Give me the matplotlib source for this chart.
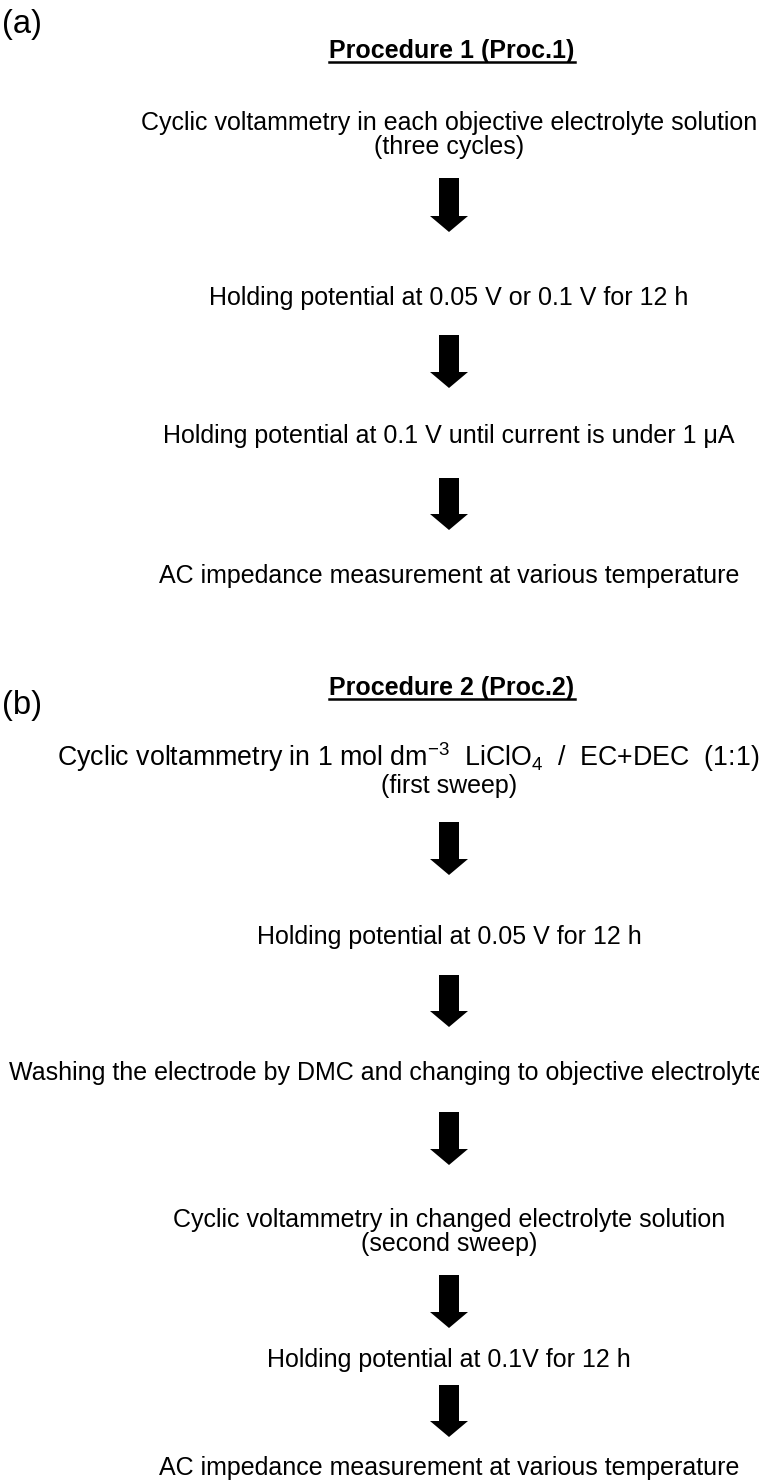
import matplotlib
matplotlib.use('Agg')
import matplotlib.pyplot as plt
from matplotlib.patches import FancyArrow

plt.rcParams['font.family'] = ['Liberation Sans', 'DejaVu Sans']
plt.rcParams['mathtext.fontset'] = 'custom'
plt.rcParams['mathtext.rm'] = 'Liberation Sans'
plt.rcParams['mathtext.it'] = 'Liberation Sans:italic'
plt.rcParams['mathtext.bf'] = 'Liberation Sans:bold'

# panel labels and titles
panel_labels = ['(a)', '(b)']
titles = ['Procedure 1 (Proc.1)', 'Procedure 2 (Proc.2)']

# steps of each procedure (one entry per box, lines joined by \n)
steps_a = [
    'Cyclic voltammetry in each objective electrolyte solution\n(three cycles)',
    'Holding potential at 0.05 V or 0.1 V for 12 h',
    'Holding potential at 0.1 V until current is under 1 \u03bcA',
    'AC impedance measurement at various temperature',
]
steps_b = [
    'Cyclic voltammetry in 1 mol dm$^{-3}$  LiClO$_4$  /  EC+DEC  (1:1)\n(first sweep)',
    'Holding potential at 0.05 V for 12 h',
    'Washing the electrode by DMC and changing to objective electrolyte',
    'Cyclic voltammetry in changed electrolyte solution\n(second sweep)',
    'Holding potential at 0.1V for 12 h',
    'AC impedance measurement at various temperature',
]

# layout (pixels, y downwards)
W, H = 759, 1483
xc = 449
label_y = [33, 714]
title_y = [58, 695]
base_a = [130, 305, 443, 583]
base_b = [766, 944, 1080, 1227, 1367, 1475]
arrows_a = [(178, 232), (335, 388), (478, 530)]
arrows_b = [(822, 875), (975, 1027), (1112, 1165), (1275, 1328), (1385, 1437)]
line_gap = 24
fs = 18

fig = plt.figure(figsize=(W / 100, H / 100), dpi=100)
ax = fig.add_axes([0, 0, 1, 1])
ax.set_xlim(0, W)
ax.set_ylim(H, 0)
ax.axis('off')

for lab, y in zip(panel_labels, label_y):
    ax.text(2, y, lab, fontsize=23.5, ha='left', va='baseline')

title_objs = []
for t, y in zip(titles, title_y):
    title_objs.append(ax.text(452, y, t, fontsize=fs, fontweight='bold',
                              ha='center', va='baseline'))


def draw_step(text, y, x=xc, ha='center', size=fs):
    lines = text.split('\n')
    for i, ln in enumerate(lines):
        ax.text(x, y + i * line_gap, ln, fontsize=size, ha=ha, va='baseline')


for s, y in zip(steps_a, base_a):
    draw_step(s, y)

for i, (s, y) in enumerate(zip(steps_b, base_b)):
    if i == 0:
        lines = s.split('\n')
        ax.text(57, y, lines[0], fontsize=19.3, ha='left', va='baseline')
        ax.text(xc, y + line_gap + 3, lines[1], fontsize=fs, ha='center', va='baseline')
    elif i == 2:
        draw_step(s, y, x=9, ha='left')
    else:
        draw_step(s, y)

for y0, y1 in arrows_a + arrows_b:
    ax.add_patch(FancyArrow(xc, y0, 0, y1 - y0, width=20, head_width=38,
                            head_length=16, length_includes_head=True,
                            color='black', lw=0))

# underline the titles
fig.canvas.draw()
r = fig.canvas.get_renderer()
inv = ax.transData.inverted()
for t in title_objs:
    bb = t.get_window_extent(renderer=r)
    (x0, _), (x1, _) = inv.transform([[bb.x0, bb.y0], [bb.x1, bb.y0]])
    y = t.get_position()[1] + 4
    ax.plot([x0, x1], [y, y], color='black', lw=1.8)

fig.savefig('out.png', dpi=100)
